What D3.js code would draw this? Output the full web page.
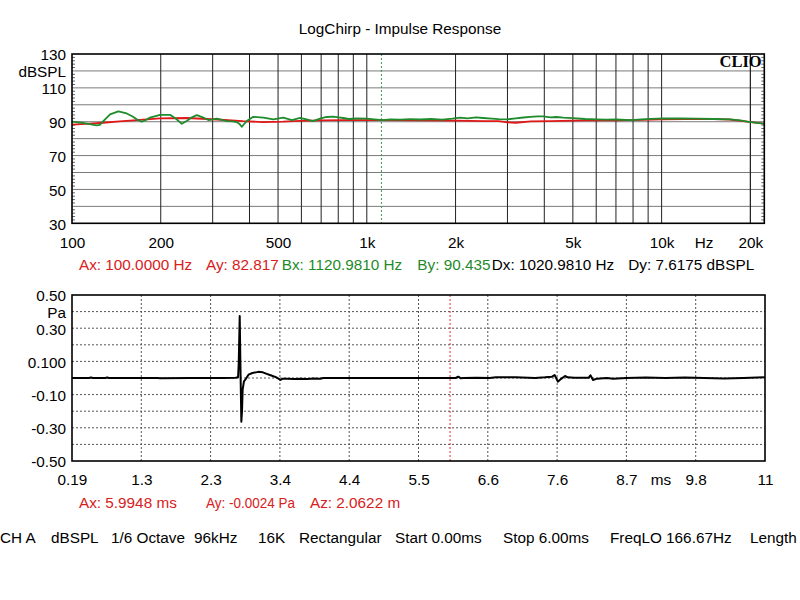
<!DOCTYPE html>
<html>
<head>
<meta charset="utf-8">
<script src="https://cdn.jsdelivr.net/npm/d3@7/dist/d3.min.js"></script>
<style>
  html, body { margin: 0; padding: 0; background: #fff; }
  svg { display: block; }
  text { font-family: "Liberation Sans", Arial, sans-serif; font-size: 15.3px; fill: #000; }
</style>
</head>
<body>
<svg id="chart" width="800" height="600"></svg>
<script>
// ---------------- DATA ----------------
const title = "LogChirp - Impulse Response";

// Top chart: frequency response (Hz, dBSPL)
const greenFreq = [100,105,109,115,121,124.5,127.7,134.6,143.6,153.3,160,165.8,172.4,178,183.9,198.9,215,226.6,235.6,245,255,265,279,290,310,335,350,362,370,376.5,383,391.5,412,446,482,521,557,594,625,657,694,730,769,800,831,870,920,1002,1060,1136,1200,1300,1400,1517,1650,1800,1950,2073,2200,2350,2481,2650,2800,2993,3200,3400,3583,3800,3965,4200,4400,4636,5000,5500,6045,6500,7000,7825,8800,10126,11500,13208,15000,17092,18500,19521,21000,22300];
const greenDb   = [90.0,89.6,89.3,88.6,87.9,88.2,90.4,94.3,96.1,94.9,93.2,91.4,90.0,91.0,92.4,94.1,94.1,91.4,88.8,90.4,92.6,93.9,92.4,91.0,91.8,90.4,90.2,89.8,88.7,87.0,88.5,90.4,92.9,92.4,91.4,92.4,91.0,92.2,91.4,90.4,91.8,92.8,93.0,92.6,92.2,91.6,91.9,91.8,91.4,91.0,91.4,91.2,91.5,91.3,91.6,91.2,91.8,92.4,92.0,92.6,92.2,91.8,91.5,91.4,92.0,92.5,92.9,93.2,93.1,92.6,92.8,92.4,92.1,91.6,91.4,91.2,91.3,91.0,91.5,92.0,91.9,91.8,91.6,91.4,90.8,90.0,89.3,88.8];

const redFreq = [100,115,127.7,145,165.8,199,245,310,380,446,520,594,700,831,1000,1200,1500,2000,2500,2800,3000,3200,3600,4200,5000,6000,7000,8000,10000,12000,15000,17000,19500,22300];
const redDb   = [88.3,88.9,89.4,90.2,91.0,92.0,92.2,91.3,90.3,89.8,90.0,90.5,90.8,91.0,91.0,91.0,90.8,90.6,90.4,90.3,89.6,89.4,90.2,90.4,90.6,91.0,90.8,90.9,91.4,91.6,91.5,91.3,90.0,88.8];

const freqDomain = [100, 22300];
const dbDomain = [30, 130];
const freqTickValues = [100,200,500,1000,2000,5000,10000,20000];
const freqTickLabels = ["100","200","500","1k","2k","5k","10k","20k"];
const dbTickValues = [130,120,110,90,70,50,30];
const dbTickLabels = ["130","dBSPL","110","90","70","50","30"];
const cursorBFreq = 1120.981;

const topCursorTexts = ["Ax: 100.0000 Hz","Ay: 82.817","Bx: 1120.9810 Hz","By: 90.435","Dx: 1020.9810 Hz","Dy: 7.6175 dBSPL"];
const topCursorColors = ["#d82020","#d82020","#1f8a2a","#1f8a2a","#000","#000"];

// Bottom chart: impulse response (ms, Pa)
const timeMs = [0.19,0.45,0.48,0.51,0.7,0.73,0.76,1.5,1.55,2.0,2.5,2.70,2.74,2.75,2.765,2.775,2.79,2.80,2.81,2.83,2.86,2.90,2.96,3.05,3.12,3.18,3.25,3.32,3.36,3.39,3.42,3.5,3.6,3.7,3.8,3.9,4.0,4.05,4.5,5.5,5.99,6.08,6.12,6.16,6.2,6.4,6.6,6.7,7.0,7.3,7.45,7.56,7.60,7.65,7.70,7.76,7.80,7.9,8.12,8.15,8.19,8.25,8.4,8.5,8.7,9.0,9.3,9.6,9.9,10.2,10.5,10.83];
const pressurePa = [0,0,0.003,0,0,0.003,0,0,-0.002,0,0,0.002,0.004,0.09,0.373,0.10,-0.263,-0.20,-0.07,-0.02,-0.005,0.02,0.03,0.037,0.034,0.025,0.015,0.005,-0.004,-0.012,-0.005,-0.004,-0.006,-0.004,-0.006,-0.003,-0.005,0,0,0,0,0,0.008,-0.002,0,0.002,0,0.004,0.004,0,0.004,0.008,0.018,-0.022,-0.005,0.012,0.004,0.002,0.001,0.016,-0.012,-0.004,0,-0.004,0,0.003,0,0.003,0,-0.003,0,0.004];

const timeDomain = [0.19, 10.83];
const paDomain = [-0.5, 0.5];
const timeTickLabels = ["0.19","1.3","2.3","3.4","4.4","5.5","6.6","7.6","8.7","9.8","11"];
const paTickValues = [0.5,0.4,0.3,0.1,-0.1,-0.3,-0.5];
const paTickLabels = ["0.50","Pa","0.30","0.100","-0.10","-0.30","-0.50"];
const cursorATime = 5.9948;

const bottomCursorTexts = ["Ax: 5.9948 ms","Ay: -0.0024 Pa","Az: 2.0622 m"];

const statusItems = ["CH A","dBSPL","1/6 Octave","96kHz","16K","Rectangular","Start 0.00ms","Stop 6.00ms","FreqLO 166.67Hz","Length"];

// ---------------- LAYOUT ----------------
const svg = d3.select("#chart");
const top1 = {x0: 72, x1: 764.3, y0: 54, y1: 223.3};
const bot1 = {x0: 72, x1: 765, y0: 295, y1: 461};

svg.append("text").attr("x", 400).attr("y", 33.5).attr("text-anchor", "middle").text(title);

// ---------------- TOP CHART ----------------
const xF = d3.scaleLog().domain(freqDomain).range([top1.x0, top1.x1]);
const yD = d3.scaleLinear().domain(dbDomain).range([top1.y1, top1.y0]);

const gTop = svg.append("g");
gTop.selectAll("line.hg").data(d3.range(40, 130, 10)).join("line")
  .attr("x1", top1.x0).attr("x2", top1.x1)
  .attr("y1", d => yD(d)).attr("y2", d => yD(d))
  .attr("stroke", "#7a7a7a").attr("stroke-width", 1);
const vgrid = [];
for (let dec = 100; dec <= 10000; dec *= 10) for (let k = 1; k <= 9; k++) vgrid.push(dec * k);
vgrid.push(20000);
gTop.selectAll("line.vg").data(vgrid.filter(f => f > freqDomain[0] && f < freqDomain[1])).join("line")
  .attr("x1", d => xF(d)).attr("x2", d => xF(d))
  .attr("y1", top1.y0).attr("y2", top1.y1)
  .attr("stroke", "#222").attr("stroke-width", 1);
const minor = d3.range(32, 130, 2).filter(d => d % 10 !== 0);
gTop.selectAll("line.ml").data(minor).join("line")
  .attr("x1", top1.x0).attr("x2", top1.x0 + 3)
  .attr("y1", d => yD(d)).attr("y2", d => yD(d)).attr("stroke", "#666");
gTop.selectAll("line.mr").data(minor).join("line")
  .attr("x1", top1.x1 - 3).attr("x2", top1.x1)
  .attr("y1", d => yD(d)).attr("y2", d => yD(d)).attr("stroke", "#666");

gTop.append("line").attr("x1", xF(cursorBFreq)).attr("x2", xF(cursorBFreq))
  .attr("y1", top1.y0).attr("y2", top1.y1)
  .attr("stroke", "#3c9a4a").attr("stroke-width", 1).attr("stroke-dasharray", "2,2");

const lineTop = d3.line().x(d => xF(d[0])).y(d => yD(d[1])).curve(d3.curveLinear);
gTop.append("path").datum(redFreq.map((f, i) => [f, redDb[i]]))
  .attr("d", lineTop).attr("fill", "none").attr("stroke", "#e01818").attr("stroke-width", 1.8);
gTop.append("path").datum(greenFreq.map((f, i) => [f, greenDb[i]]))
  .attr("d", lineTop).attr("fill", "none").attr("stroke", "#1e8c2c").attr("stroke-width", 1.8)
  .attr("stroke-linejoin", "round");

gTop.append("rect").attr("x", top1.x0).attr("y", top1.y0)
  .attr("width", top1.x1 - top1.x0).attr("height", top1.y1 - top1.y0)
  .attr("fill", "none").attr("stroke", "#000").attr("stroke-width", 1.6);

svg.append("text").attr("x", 761.7).attr("y", 67.3).attr("text-anchor", "end")
  .style("font-family", "'Liberation Serif', 'Times New Roman', serif")
  .style("font-weight", "bold").style("font-size", "16.5px").text("CLIO");

const axTopX = d3.axisBottom(xF).tickValues(freqTickValues)
  .tickFormat((d, i) => freqTickLabels[i]).tickSize(0).tickPadding(14);
const gAx1 = svg.append("g").attr("transform", `translate(0,${top1.y1})`).call(axTopX);
gAx1.select(".domain").remove();
gAx1.selectAll("text").style("font-size", "15.3px").style("font-family", "'Liberation Sans', Arial, sans-serif").attr("fill", "#000");
svg.append("text").attr("x", xF(Math.sqrt(10000 * 20000)) - 2).attr("y", 248.3)
  .attr("text-anchor", "middle").text("Hz");

const axTopY = d3.axisLeft(yD).tickValues(dbTickValues)
  .tickFormat((d, i) => dbTickLabels[i]).tickSize(0).tickPadding(6);
const gAy1 = svg.append("g").attr("transform", `translate(${top1.x0},0)`).call(axTopY);
gAy1.select(".domain").remove();
gAy1.selectAll("text").attr("dy", "0.38em").style("font-size", "15.3px").style("font-family", "'Liberation Sans', Arial, sans-serif").attr("fill", "#000");

const topCursorX = [79, 206, 281.7, 417.3, 491.7, 628.3];
svg.selectAll("text.tc").data(topCursorTexts).join("text")
  .attr("x", (d, i) => topCursorX[i]).attr("y", 270)
  .style("fill", (d, i) => topCursorColors[i])
  .text(d => d);

// ---------------- BOTTOM CHART ----------------
const xT = d3.scaleLinear().domain(timeDomain).range([bot1.x0, bot1.x1]);
const yP = d3.scaleLinear().domain(paDomain).range([bot1.y1, bot1.y0]);
const timeTicks = d3.range(11).map(i => timeDomain[0] + i * (timeDomain[1] - timeDomain[0]) / 10);

const gBot = svg.append("g");
gBot.selectAll("line.hg").data(d3.range(-0.4, 0.45, 0.1)).join("line")
  .attr("x1", bot1.x0).attr("x2", bot1.x1)
  .attr("y1", d => yP(d)).attr("y2", d => yP(d))
  .attr("stroke", "#555").attr("stroke-width", 1).attr("stroke-dasharray", "2,2");
gBot.selectAll("line.vg").data(timeTicks.slice(1, 10)).join("line")
  .attr("x1", d => xT(d)).attr("x2", d => xT(d))
  .attr("y1", bot1.y0).attr("y2", bot1.y1)
  .attr("stroke", "#555").attr("stroke-width", 1).attr("stroke-dasharray", "2,2");
gBot.append("line").attr("x1", xT(cursorATime)).attr("x2", xT(cursorATime))
  .attr("y1", bot1.y0).attr("y2", bot1.y1)
  .attr("stroke", "#e03030").attr("stroke-width", 1).attr("stroke-dasharray", "2,2");

const lineBot = d3.line().x(d => xT(d[0])).y(d => yP(d[1]));
gBot.append("path").datum(timeMs.map((t, i) => [t, pressurePa[i]]))
  .attr("d", lineBot).attr("fill", "none").attr("stroke", "#000").attr("stroke-width", 2)
  .attr("stroke-linejoin", "round");

gBot.append("rect").attr("x", bot1.x0).attr("y", bot1.y0)
  .attr("width", bot1.x1 - bot1.x0).attr("height", bot1.y1 - bot1.y0)
  .attr("fill", "none").attr("stroke", "#000").attr("stroke-width", 1.6);

const axBotX = d3.axisBottom(xT).tickValues(timeTicks)
  .tickFormat((d, i) => timeTickLabels[i]).tickSize(0).tickPadding(13.2);
const gAx2 = svg.append("g").attr("transform", `translate(0,${bot1.y1})`).call(axBotX);
gAx2.select(".domain").remove();
gAx2.selectAll("text").style("font-size", "15.3px").style("font-family", "'Liberation Sans', Arial, sans-serif").attr("fill", "#000");
svg.append("text").attr("x", (xT(timeTicks[8]) + xT(timeTicks[9])) / 2).attr("y", 485)
  .attr("text-anchor", "middle").text("ms");

const axBotY = d3.axisLeft(yP).tickValues(paTickValues)
  .tickFormat((d, i) => paTickLabels[i]).tickSize(0).tickPadding(6);
const gAy2 = svg.append("g").attr("transform", `translate(${bot1.x0},0)`).call(axBotY);
gAy2.select(".domain").remove();
gAy2.selectAll("text").attr("dy", "0.38em").style("font-size", "15.3px").style("font-family", "'Liberation Sans', Arial, sans-serif").attr("fill", "#000");

const botCursorX = [79, 206, 310];
const botCursorW = [98.7, 89, 0];
svg.selectAll("text.bc").data(bottomCursorTexts).join("text")
  .attr("x", (d, i) => botCursorX[i]).attr("y", 507.7)
  .style("fill", "#d82020").text(d => d)
  .each(function(d, i) {
    if (i === 1) d3.select(this).attr("textLength", botCursorW[i]).attr("lengthAdjust", "spacingAndGlyphs");
  });

// ---------------- STATUS BAR ----------------
const statusX = [0, 51, 111, 194, 258, 299, 395, 503, 610, 750];
svg.selectAll("text.st").data(statusItems).join("text")
  .attr("x", (d, i) => statusX[i]).attr("y", 543).text(d => d);
</script>
</body>
</html>
